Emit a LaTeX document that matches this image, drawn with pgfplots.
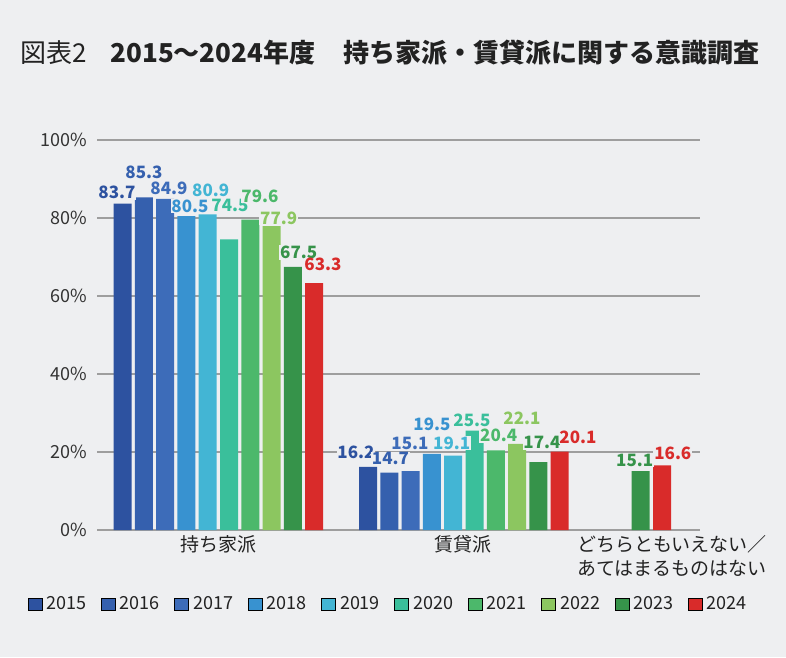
\documentclass[border=0pt]{standalone}
\usepackage{fontspec}
\setmainfont{Noto Sans CJK JP}
\usepackage{pgfplots}
\pgfplotsset{compat=1.18}
\definecolor{bg}{HTML}{EEEFF1}
\definecolor{txt}{HTML}{222222}
\definecolor{tickc}{HTML}{333333}
\definecolor{gridc}{HTML}{9E9E9E}
\definecolor{c2015}{HTML}{2D52A0}
\definecolor{c2016}{HTML}{3560AE}
\definecolor{c2017}{HTML}{3D6CB9}
\definecolor{c2018}{HTML}{3892D0}
\definecolor{c2019}{HTML}{43B5D4}
\definecolor{c2020}{HTML}{3ABF9B}
\definecolor{c2021}{HTML}{4CB86B}
\definecolor{c2022}{HTML}{8CC660}
\definecolor{c2023}{HTML}{36934A}
\definecolor{c2024}{HTML}{D92B2A}
\pgfplotsset{mybar/.style={ybar, bar width=18, bar shift=0pt, draw=none, forget plot}}
\begin{document}
\begin{tikzpicture}
\path[use as bounding box, fill=bg] (0pt,0pt) rectangle (786pt,657pt);
\node[anchor=base west, text=txt, font=\fontsize{26}{30}\selectfont, inner sep=0pt] at (20pt,594pt)
  {図表2\hspace{24pt}\textbf{2015～2024年度\hspace{28pt}持ち家派・賃貸派に関する意識調査}};
\begin{axis}[
  at={(97pt,127pt)}, anchor=south west, scale only axis,
  width=603pt, height=390pt,
  xmin=97, xmax=700, ymin=0, ymax=100, clip=false,
  axis line style={draw=none}, major tick length=0pt,
  ytick={0,20,40,60,80,100},
  yticklabels={0\%,20\%,40\%,60\%,80\%,100\%},
  ymajorgrids, major grid style={line width=1.6pt, color=gridc},
  xtick={218,463,672},
  xticklabels={持ち家派,賃貸派,{どちらともいえない／\\あてはまるものはない}},
  xticklabel style={align=center, font=\fontsize{19}{24}\selectfont, text=txt, yshift=-2pt},
  yticklabel style={font=\fontsize{18}{20}\selectfont, text=tickc, xshift=-6pt},
  legend image code/.code={\fill[#1] (0pt,-6pt) rectangle (14pt,6pt);},
  legend columns=10,
  legend style={at={(axis description cs:-0.1153,-0.1897)}, anchor=west,
    draw=none, fill=none, inner sep=0pt, nodes={inner sep=1.5pt},
    font=\fontsize{18}{20}\selectfont, text=txt,
    /tikz/every odd column/.append style={column sep=3pt},
    /tikz/every even column/.append style={column sep=13pt}},
]
\addplot[mybar, fill=c2015] coordinates {(122.5,83.7) (368,16.2)};
\addplot[mybar, fill=c2016] coordinates {(143.8,85.3) (389.3,14.7)};
\addplot[mybar, fill=c2017] coordinates {(165.1,84.9) (410.6,15.1)};
\addplot[mybar, fill=c2018] coordinates {(186.4,80.5) (431.9,19.5)};
\addplot[mybar, fill=c2019] coordinates {(207.7,80.9) (453.2,19.1)};
\addplot[mybar, fill=c2020] coordinates {(229.0,74.5) (474.5,25.5)};
\addplot[mybar, fill=c2021] coordinates {(250.3,79.6) (495.8,20.4)};
\addplot[mybar, fill=c2022] coordinates {(271.6,77.9) (517.1,22.1)};
\addplot[mybar, fill=c2023] coordinates {(292.9,67.5) (538.4,17.4) (640.5,15.1)};
\addplot[mybar, fill=c2024] coordinates {(314.2,63.3) (559.7,20.1) (662,16.6)};
\addplot[forget plot, draw=none, mark=none, nodes near coords, point meta=explicit symbolic,
  visualization depends on={value \thisrow{col} \as \lcol},
  every node near coord/.append style={anchor=center, text=\lcol, fill=bg, inner sep=0.8pt,
    font=\bfseries\fontsize{17}{18}\selectfont}]
  table[x=x, y=y, meta=lab] {
x y lab col
117 86.5 83.7 c2015
144 91.8 85.3 c2016
169 87.7 84.9 c2017
190 83.1 80.5 c2018
210.7 87.2 80.9 c2019
230 83.1 74.5 c2020
260 85.6 79.6 c2021
278.7 80.0 77.9 c2022
298.7 71.2 67.5 c2023
323 68.0 63.3 c2024
356 19.9 16.2 c2015
390.5 18.3 14.7 c2016
410 22.1 15.1 c2017
432 27.2 19.5 c2018
451.7 22.3 19.1 c2019
472 28.2 25.5 c2020
498.7 24.2 20.4 c2021
522 28.7 22.1 c2022
542 22.4 17.4 c2023
578 23.8 20.1 c2024
634.7 17.9 15.1 c2023
672.8 19.7 16.6 c2024
};
\addlegendimage{fill=c2015}\addlegendentry{2015}
\addlegendimage{fill=c2016}\addlegendentry{2016}
\addlegendimage{fill=c2017}\addlegendentry{2017}
\addlegendimage{fill=c2018}\addlegendentry{2018}
\addlegendimage{fill=c2019}\addlegendentry{2019}
\addlegendimage{fill=c2020}\addlegendentry{2020}
\addlegendimage{fill=c2021}\addlegendentry{2021}
\addlegendimage{fill=c2022}\addlegendentry{2022}
\addlegendimage{fill=c2023}\addlegendentry{2023}
\addlegendimage{fill=c2024}\addlegendentry{2024}
\end{axis}
\end{tikzpicture}
\end{document}
